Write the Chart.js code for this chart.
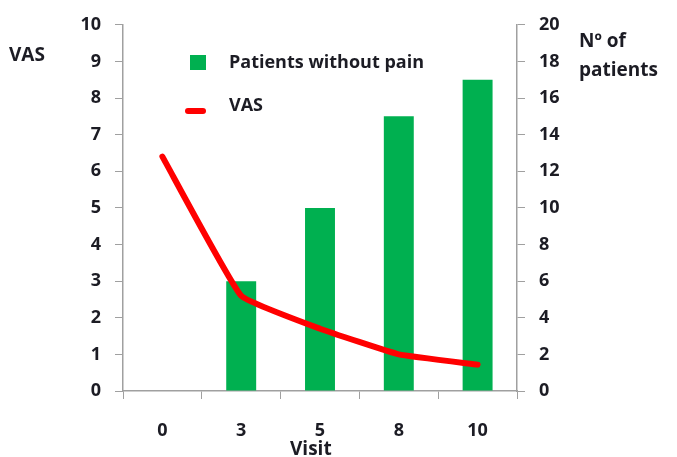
<!DOCTYPE html>
<html>
<head>
<meta charset="utf-8">
<script src="https://cdn.jsdelivr.net/npm/chart.js@4"></script>
<style>
  html, body { margin: 0; padding: 0; background: #fff; }
  #wrap { position: relative; width: 677px; height: 457px; }
  canvas { position: absolute; left: 0; top: 0; }
  .t { position: absolute; font-family: "Open Sans", sans-serif; font-weight: bold; color: #1c1c24; font-size: 19px; line-height: 1; white-space: nowrap; }
  .sw { position: absolute; }
</style>
</head>
<body>
<div id="wrap">
  <canvas id="c" width="677" height="457"></canvas>
  <div class="t" style="left:9px; top:45px;">VAS</div>
  <div class="t" style="left:579px; top:31px;">Nº of</div>
  <div class="t" style="left:579px; top:60px;">patients</div>
  <div class="t" style="left:290px; top:439px;">Visit</div>
  <div id="legend"></div>
</div>
<script>
const visits = ["0", "3", "5", "8", "10"];
const vasValues = [6.4, 2.6, 1.7, 1.0, 0.72];
const patientsWithoutPain = [0, 6, 10, 15, 17];
const vasTicks = [0, 1, 2, 3, 4, 5, 6, 7, 8, 9, 10];
const patientTicks = [0, 2, 4, 6, 8, 10, 12, 14, 16, 18, 20];

const tickFont = { family: "Open Sans", size: 18, weight: "bold" };
const axisColor = "#a0a0a0";
const textColor = "#1c1c24";

const chart = new Chart(document.getElementById("c"), {
  data: {
    labels: visits,
    datasets: [
      {
        type: "bar",
        label: "Patients without pain",
        data: patientsWithoutPain,
        backgroundColor: "#00b050",
        yAxisID: "y2",
        barPercentage: 0.38,
        categoryPercentage: 1.0,
        order: 2
      },
      {
        type: "line",
        label: "VAS",
        data: vasValues,
        borderColor: "#ff0000",
        backgroundColor: "#ff0000",
        borderWidth: 6,
        borderCapStyle: "round",
        borderJoinStyle: "round",
        pointRadius: 0,
        tension: 0.1,
        yAxisID: "y",
        order: 1
      }
    ]
  },
  options: {
    responsive: false,
    animation: false,
    layout: { padding: { top: 23, left: 0, right: 0, bottom: 0 } },
    plugins: { legend: { display: false }, tooltip: { enabled: false } },
    scales: {
      x: {
        type: "category",
        offset: true,
        grid: { display: true, drawOnChartArea: false, offset: true, tickLength: 8, color: axisColor },
        border: { color: axisColor, width: 1.5 },
        ticks: { font: tickFont, color: textColor, padding: 21 },
        afterFit: (s) => { s.height = 66; }
      },
      y: {
        position: "left",
        min: 0, max: 10,
        afterBuildTicks: (s) => { s.ticks = vasTicks.map(v => ({ value: v })); },
        grid: { display: true, drawOnChartArea: false, tickLength: 8, color: axisColor },
        border: { color: axisColor, width: 1.5 },
        ticks: { font: tickFont, color: textColor, padding: 14 },
        afterFit: (s) => { s.width = 123; }
      },
      y2: {
        position: "right",
        min: 0, max: 20,
        afterBuildTicks: (s) => { s.ticks = patientTicks.map(v => ({ value: v })); },
        grid: { display: true, drawOnChartArea: false, tickLength: 8, color: axisColor },
        border: { color: axisColor, width: 1.5 },
        ticks: { font: tickFont, color: textColor, padding: 14 },
        afterFit: (s) => { s.width = 160; }
      }
    }
  }
});

// HTML legend built from the datasets
const legend = document.getElementById("legend");
const legendRows = [
  { idx: 0, top: 52 },
  { idx: 1, top: 95 }
];
legendRows.forEach(r => {
  const ds = chart.data.datasets[r.idx];
  const sw = document.createElement("div");
  sw.className = "sw";
  if (ds.type === "bar") {
    sw.style.cssText = "left:190px; top:" + (r.top + 3) + "px; width:16px; height:15px; background:" + ds.backgroundColor + ";";
  } else {
    sw.style.cssText = "left:185px; top:" + (r.top + 13) + "px; width:21px; height:6px; border-radius:3px; background:" + ds.borderColor + ";";
  }
  legend.appendChild(sw);
  const t = document.createElement("div");
  t.className = "t";
  t.style.left = "229px";
  t.style.top = r.top + "px";
  t.style.fontSize = "18px";
  t.textContent = ds.label;
  legend.appendChild(t);
});
</script>
</body>
</html>
